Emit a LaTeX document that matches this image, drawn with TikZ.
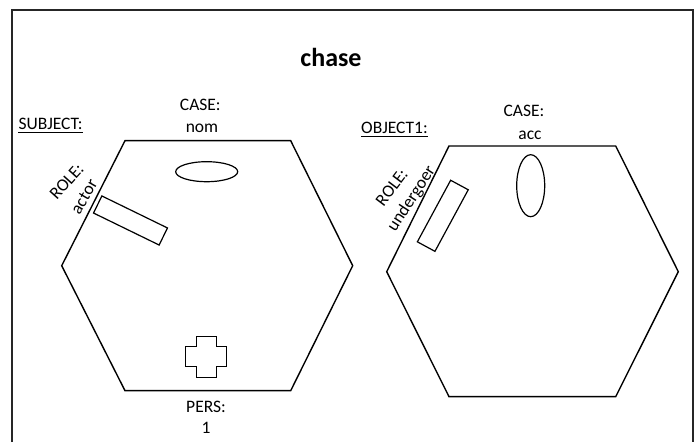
\documentclass[tikz,border=0pt]{standalone}
\usepackage{fontspec}
\setmainfont{Carlito}
\usetikzlibrary{shapes.geometric}
\begin{document}
\begin{tikzpicture}[x=1pt,y=1pt,
  lbl/.style={inner sep=0pt,font=\fontsize{17.5}{20}\selectfont,anchor=base},
  rlbl/.style={inner sep=0pt,font=\fontsize{17.5}{20}\selectfont},
  hexline/.style={line width=1.4pt,line join=miter},
  part/.style={draw,line width=1.2pt,inner sep=0pt}]
\useasboundingbox (0,0) rectangle (699,442);
% frame
\draw[line width=1.3pt,color=black!85] (12,0) -- (12,432) -- (693,432) -- (693,0);
% title
\node[lbl,font=\fontsize{26}{30}\selectfont\bfseries] (title) at (331,375.3) {chase};
% left hexagon
\coordinate (a1) at (125,301.3);
\coordinate (a2) at (290.7,301.3);
\coordinate (a3) at (352.7,176.3);
\coordinate (a4) at (290.7,51.3);
\coordinate (a5) at (125,51.3);
\coordinate (a6) at (61.7,176.3);
\draw[hexline] (a1) -- (a2) -- (a3) -- (a4) -- (a5) -- (a6) -- cycle;
% right hexagon
\coordinate (b1) at (449,296);
\coordinate (b2) at (615.7,296);
\coordinate (b3) at (678.3,170.3);
\coordinate (b4) at (615.7,45.3);
\coordinate (b5) at (449,45.3);
\coordinate (b6) at (386.7,170.3);
\draw[hexline] (b1) -- (b2) -- (b3) -- (b4) -- (b5) -- (b6) -- cycle;
% left contents
\node[part,ellipse,minimum width=62pt,minimum height=20pt] (lell) at (206.7,270.3) {};
\node[part,rectangle,minimum width=73pt,minimum height=19pt,rotate=-26] (lrect) at (130.5,221.5) {};
\draw[line width=1.2pt] (206.3,85.3)
  ++(-10,20.5) -- ++(20,0) -- ++(0,-10.5) -- ++(10.5,0) -- ++(0,-20) -- ++(-10.5,0)
  -- ++(0,-10.5) -- ++(-20,0) -- ++(0,10.5) -- ++(-10.5,0) -- ++(0,20) -- ++(10.5,0) -- cycle;
% right contents
\node[part,ellipse,minimum width=28pt,minimum height=62pt] (rell) at (530.7,256.3) {};
\node[part,rectangle,minimum width=70pt,minimum height=20pt,rotate=61.6] (rrect) at (442.8,226.2) {};
% labels
\node[lbl,anchor=base west] (subj) at (18.3,312.7) {SUBJECT:};
\draw[line width=1.2pt] ([yshift=-3.5pt]subj.base west) -- ([yshift=-3.5pt]subj.base east);
\node[lbl] (lcase) at (200.3,331.3) {CASE:};
\node[lbl] (lnom) at (202,309.3) {nom};
\node[lbl,anchor=base west] (obj) at (361,308.7) {OBJECT1:};
\draw[line width=1.2pt] ([yshift=-3.5pt]obj.base west) -- ([yshift=-3.5pt]obj.base east);
\node[lbl] (rcase) at (524,325.3) {CASE:};
\node[lbl] (racc) at (530,302.7) {acc};
\node[lbl] (pers) at (206,29.3) {PERS:};
\node[lbl] (one) at (206,8.7) {1};
\node[rlbl,rotate=48] (lrole) at (66.7,260.3) {ROLE:};
\node[rlbl,rotate=60] (lactor) at (84.2,245.3) {actor};
\node[rlbl,rotate=53] (rrole) at (391.7,254.5) {ROLE:};
\node[rlbl,rotate=57] (rund) at (411.7,243) {undergoer};
\end{tikzpicture}
\end{document}
